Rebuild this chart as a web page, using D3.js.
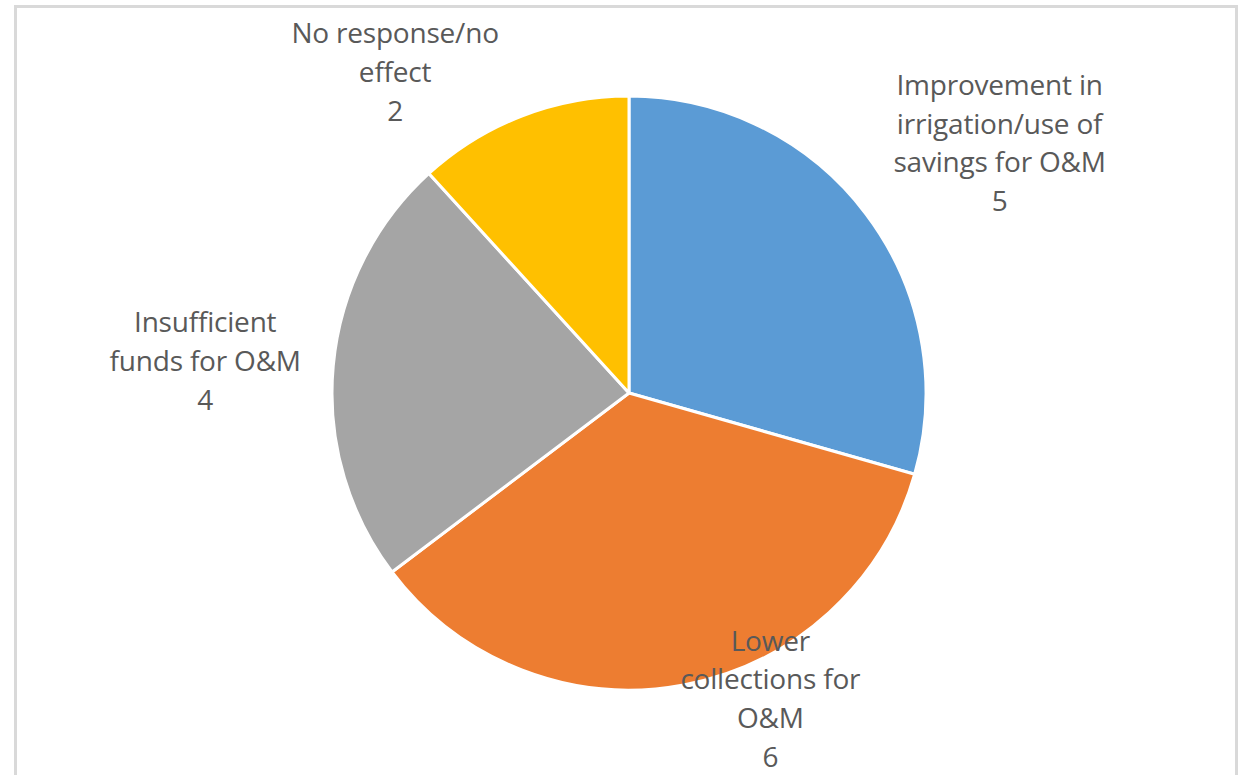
<!DOCTYPE html>
<html><head><meta charset="utf-8">
<script src="https://cdn.jsdelivr.net/npm/d3@7"></script>
<style>html,body{margin:0;padding:0;background:#fff;overflow:hidden}</style>
</head><body>
<svg id="c" width="1239" height="775"></svg>
<script>
const categories = ["Improvement in irrigation/use of savings for O&M", "Lower collections for O&M", "Insufficient funds for O&M", "No response/no effect"];
const values = [5, 6, 4, 2];
const labelLines = [["Improvement in", "irrigation/use of", "savings for O&M"], ["Lower", "collections for", "O&M"], ["Insufficient", "funds for O&M"], ["No response/no", "effect"]];
const colors = ["#5B9BD5", "#ED7D31", "#A5A5A5", "#FFC000"];
// label placement: [distance from center, angle (deg from 12 o'clock, clockwise)]
const labelPlace = [[447, 56], [337, 155.2], [425, 274.3], [397, 323.9]];

const svg = d3.select("#c");
svg.append("rect").attr("x", 15.5).attr("y", 6.5).attr("width", 1221).attr("height", 800)
  .attr("fill", "#fff").attr("stroke", "#d9d9d9").attr("stroke-width", 3);

const cx = 629, cy = 393, R = 297;
const g = svg.append("g").attr("transform", `translate(${cx},${cy})`);
const pie = d3.pie().sort(null).value(d => d)(values);
const arc = d3.arc().innerRadius(0).outerRadius(R);
g.selectAll("path").data(pie).join("path")
  .attr("d", arc).attr("fill", (d, i) => colors[i])
  .attr("stroke", "#fff").attr("stroke-width", 3).attr("stroke-linejoin", "round");

const lh = 38.6;
pie.forEach((d, i) => {
  const [dist, ang] = labelPlace[i];
  const a = ang * Math.PI / 180;
  const x = dist * Math.sin(a), y = -dist * Math.cos(a);
  const lines = labelLines[i].concat([String(values[i])]);
  const t = g.append("text").attr("text-anchor", "middle")
    .attr("font-family", "'Open Sans', Lato, sans-serif").attr("font-size", 28)
    .attr("letter-spacing", -0.2)
    .attr("fill", "#595959");
  const y0 = y - (lines.length - 1) * lh / 2;
  lines.forEach((l, k) => t.append("tspan").attr("x", x).attr("y", y0 + k * lh).attr("dy", "0.35em").text(l));
});
</script>
</body></html>
